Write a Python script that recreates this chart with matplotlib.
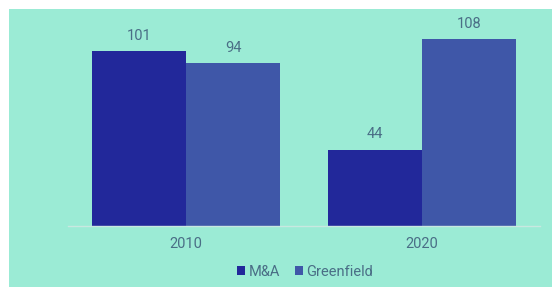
import matplotlib
matplotlib.use("Agg")
import matplotlib.pyplot as plt
import numpy as np
from matplotlib.patches import Rectangle

categories = ["2010", "2020"]
series_names = ["M&A", "Greenfield"]
ma_values = [101, 44]
greenfield_values = [94, 108]

bg = "#9beBd5"
c_ma = "#22289a"
c_gf = "#3f57a8"
txt = "#4a6e86"

plt.rcParams['font.family'] = ['Roboto', 'DejaVu Sans']

fig = plt.figure(figsize=(5.53, 2.87), dpi=100)
fig.patch.set_facecolor("white")
fig.patches.append(Rectangle((9/553, -0.01), (552-9)/553, (287-9)/287 + 0.01, transform=fig.transFigure,
                             facecolor=bg, edgecolor="none", zorder=-10))

ax = fig.add_axes([68/553, (287-226)/287, (540-68)/553, (226-20)/287])
ax.set_zorder(5)
ax.set_facecolor("none")
x = np.arange(len(categories))
w = 0.4
b1 = ax.bar(x - w/2, ma_values, w, color=c_ma, label=series_names[0], zorder=2)
b2 = ax.bar(x + w/2, greenfield_values, w, color=c_gf, label=series_names[1], zorder=2)
for bars, vals in ((b1, ma_values), (b2, greenfield_values)):
    for r, v in zip(bars, vals):
        ax.annotate(str(v), (r.get_x() + r.get_width()/2, v), xytext=(0, 6),
                    textcoords="offset points", ha="center", va="bottom",
                    color=txt, fontsize=10.5)
ax.set_xlim(-0.5, 1.5)
ax.set_ylim(0, (226-20)/1.733)
ax.set_yticks([])
ax.set_xticks(x)
ax.set_xticklabels(categories, color=txt, fontsize=10.5)
ax.tick_params(axis="x", length=0, pad=8)
for s in ["top", "right", "left"]:
    ax.spines[s].set_visible(False)
ax.spines["bottom"].set_color("#c8e8e0")
ax.spines["bottom"].set_linewidth(1)

leg = fig.legend(handles=[b1, b2], labels=series_names, loc="center",
                 bbox_to_anchor=(305/553, 1 - 272/287), ncol=2, frameon=False,
                 handlelength=0.55, handleheight=0.55, handletextpad=0.25,
                 columnspacing=1.0, fontsize=10.5)
for t in leg.get_texts():
    t.set_color(txt)

fig.savefig("out.png", dpi=100, facecolor=fig.get_facecolor())
